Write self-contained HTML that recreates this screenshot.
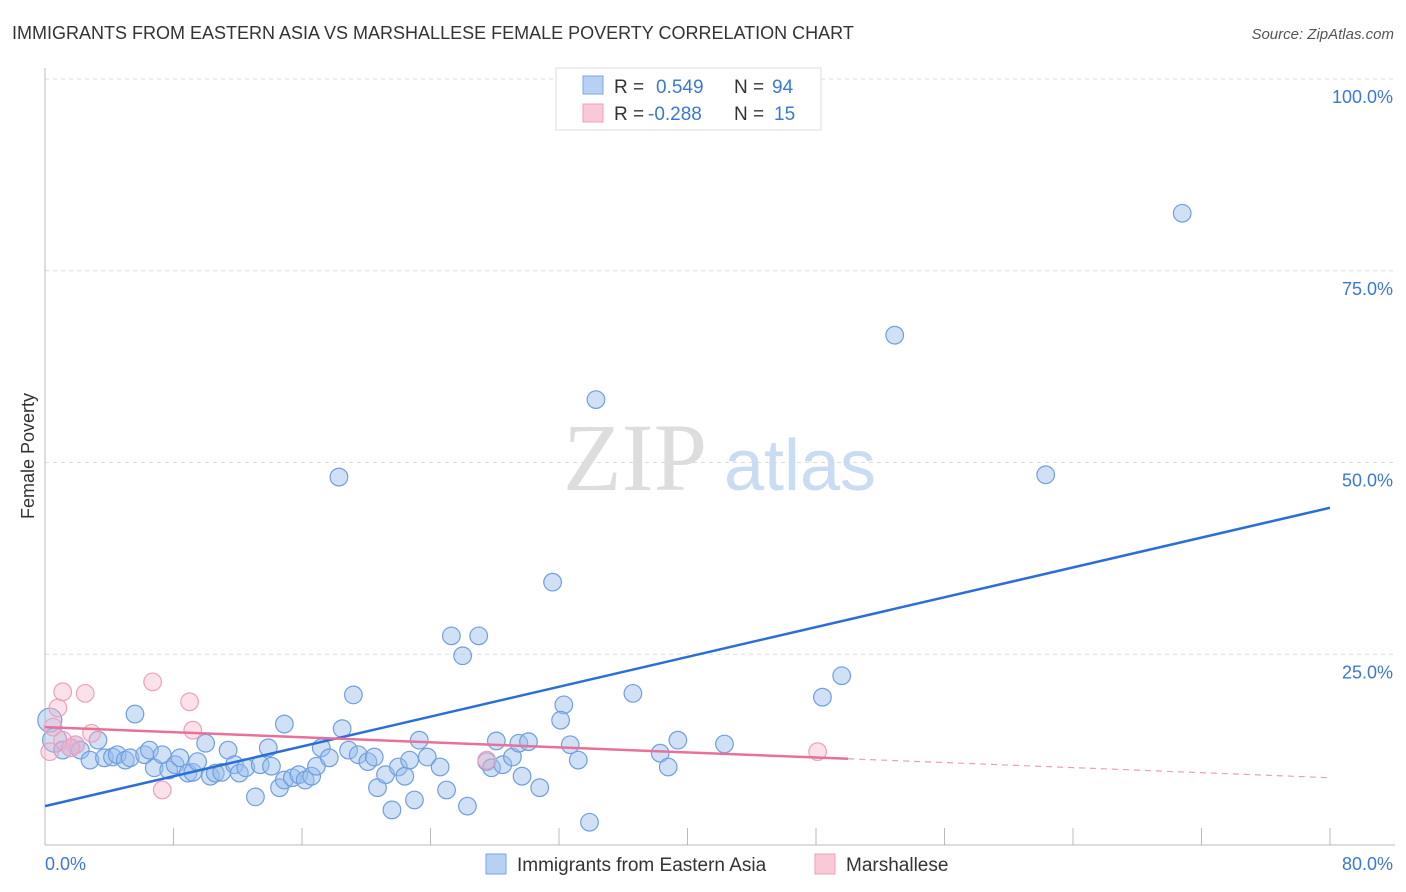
<!DOCTYPE html>
<html><head><meta charset="utf-8"><style>
body{margin:0;background:#fff;font-family:"Liberation Sans",sans-serif;}
svg{display:block}
</style></head><body>
<svg width="1406" height="892" xmlns="http://www.w3.org/2000/svg">
<text x="12" y="39" font-size="18" fill="#333">IMMIGRANTS FROM EASTERN ASIA VS MARSHALLESE FEMALE POVERTY CORRELATION CHART</text>
<text x="1394" y="39" font-size="15" fill="#555" font-style="italic" text-anchor="end">Source: ZipAtlas.com</text>
<g id="grid"></g>
<g>
<text x="635" y="490" font-size="96" font-family="Liberation Serif,serif" fill="#ddd" text-anchor="middle">ZIP</text>
<text x="800" y="490" font-size="72" fill="#c9dcf3" text-anchor="middle">atlas</text>
</g>
<line x1="45" y1="68" x2="45" y2="845" stroke="#bbb"/>
<line x1="45" y1="845" x2="1395" y2="845" stroke="#bbb"/>
<g id="xticks"></g>
<text x="45" y="870" font-size="18" fill="#3a78d8">0.0%</text>
<text x="1393" y="870" font-size="18" fill="#3a78d8" text-anchor="end">80.0%</text>
<text transform="translate(34,456) rotate(-90)" font-size="18" fill="#333" text-anchor="middle">Female Poverty</text>
<g id="marks"></g>
<g>
<rect x="556" y="68" width="265" height="62" fill="#fff" stroke="#ddd"/>
<rect x="583" y="76" width="20" height="18" fill="#b8d1f3" stroke="#7aa6e0"/>
<text x="614" y="93" font-size="19" fill="#333">R = </text><text x="656" y="93" font-size="19" fill="#3a78d8">0.549</text>
<text x="734" y="93" font-size="19" fill="#333">N = </text><text x="772" y="93" font-size="19" fill="#3a78d8">94</text>
<rect x="583" y="104" width="20" height="18" fill="#f9c9d8" stroke="#f0a0bb"/>
<text x="614" y="120" font-size="19" fill="#333">R = </text><text x="648" y="120" font-size="19" fill="#3a78d8">-0.288</text>
<text x="734" y="120" font-size="19" fill="#333">N = </text><text x="774" y="120" font-size="19" fill="#3a78d8">15</text>
</g>
<g>
<rect x="486" y="854" width="20" height="20" fill="#b8d1f3" stroke="#7aa6e0"/>
<text x="517" y="871" font-size="19" fill="#333">Immigrants from Eastern Asia</text>
<rect x="815" y="854" width="20" height="20" fill="#f9c9d8" stroke="#f0a0bb"/>
<text x="846" y="871" font-size="19" fill="#333">Marshallese</text>
</g>
</svg>
<script>
const blueX=[70.8,52.9,34.3,62.3,18.3,31.6,25.3,27.0,26.0,49.6,48.4,36.6,19.2,32.3,32.1,5.6,14.9,18.5,10.0,3.3,0.3,0.6,1.1,1.6,1.9,2.2,2.8,3.7,4.2,4.5,5.0,5.3,6.2,6.5,6.8,7.3,7.7,8.1,8.4,8.9,9.2,9.5,10.3,10.6,11.0,11.4,11.8,12.1,12.5,13.1,13.4,13.9,14.1,14.6,14.9,15.4,15.8,16.2,16.6,16.9,17.2,17.7,18.9,19.5,20.1,20.5,20.7,21.2,21.6,22.0,22.4,22.7,23.0,23.3,23.8,24.6,25.0,26.3,27.5,27.8,28.1,28.5,29.1,29.5,29.7,30.1,30.8,32.7,33.2,33.9,38.3,38.8,39.4,42.3];
const blueY=[82.5,66.6,58.2,48.4,48.1,34.4,27.4,27.4,24.8,22.2,19.4,19.9,19.7,18.4,16.4,17.2,15.9,15.3,13.4,13.8,16.4,13.8,12.5,12.8,13.2,12.5,11.2,11.5,11.6,11.9,11.2,11.5,11.9,12.5,10.2,11.9,9.9,10.6,11.5,9.5,9.6,11.0,9.1,9.5,9.6,12.5,10.6,9.5,10.2,6.4,10.6,12.8,10.4,7.6,8.6,8.9,9.3,8.6,9.1,10.4,12.8,11.5,12.5,11.9,11.0,11.6,7.6,9.3,4.7,10.3,9.1,11.2,6.0,13.8,11.6,10.3,7.3,5.2,11.0,10.2,13.7,10.6,11.6,13.4,9.1,13.6,7.6,13.2,11.2,3.1,12.1,10.3,13.8,13.3];
const pinkX=[0.5,0.3,0.8,1.1,2.5,1.9,2.9,6.7,7.3,9.0,9.2,27.5,48.1,1.1,1.6];
const pinkY=[15.5,12.3,18.0,20.1,19.9,13.2,14.7,21.4,7.3,18.8,15.1,11.2,12.3,13.8,12.8];
const blueTrend=[5.2,44.1];
const pinkTrend=[15.5,8.9];
const pinkSolidEnd=50;
const yTicks=[25,50,75,100];
const xTicks=[0,8,16,24,32,40,48,56,64,72,80];
const NS='http://www.w3.org/2000/svg';
const sx=v=>45+v*(1285/80), sy=v=>846-v*7.67;
function mk(t,a,p){const e=document.createElementNS(NS,t);for(const k in a)e.setAttribute(k,a[k]);p.appendChild(e);return e;}
const grid=document.getElementById('grid');
yTicks.forEach(t=>{
 const l=mk('line',{x1:45,x2:1395,y1:sy(t),y2:sy(t),stroke:'#ddd','stroke-dasharray':'4,4'},grid);
 
 
 const tx=mk('text',{x:1393,y:sy(t)+24,'font-size':18,fill:'#3a78d8','text-anchor':'end'},grid);
 tx.textContent=t.toFixed(1)+'%';
 
 
});
const xt=document.getElementById('xticks');
xTicks.forEach(t=>{
 const l=mk('line',{x1:sx(t),x2:sx(t),y1:828,y2:845,stroke:'#bbb'},xt);
 
 
});
const m=document.getElementById('marks');
blueX.forEach((x,i)=>{
 const c=mk('circle',{cx:sx(x),cy:sy(blueY[i]),r:(i===20||i===21)?12:8.8,fill:'rgba(150,188,236,0.45)',stroke:'#6f9fe0','stroke-width':1.2},m);
 
 
});
pinkX.forEach((x,i)=>{
 const c=mk('circle',{cx:sx(x),cy:sy(pinkY[i]),r:8.8,fill:'rgba(246,180,202,0.4)',stroke:'#f0a0bb','stroke-width':1.2},m);
 
 
});
const bl=mk('line',{x1:sx(0),y1:sy(blueTrend[0]),x2:sx(80),y2:sy(blueTrend[1]),stroke:'#2a6fd6','stroke-width':2.5},m);


const pAt=x=>pinkTrend[0]+(pinkTrend[1]-pinkTrend[0])*x/80;
const pl=mk('line',{x1:sx(0),y1:sy(pAt(0)),x2:sx(pinkSolidEnd),y2:sy(pAt(pinkSolidEnd)),stroke:'#e8709a','stroke-width':2.5},m);


const pd=mk('line',{x1:sx(pinkSolidEnd),y1:sy(pAt(pinkSolidEnd)),x2:sx(80),y2:sy(pAt(80)),stroke:'#e8a0b8','stroke-width':1.2,'stroke-dasharray':'6,5'},m);


</script>
</body></html>
